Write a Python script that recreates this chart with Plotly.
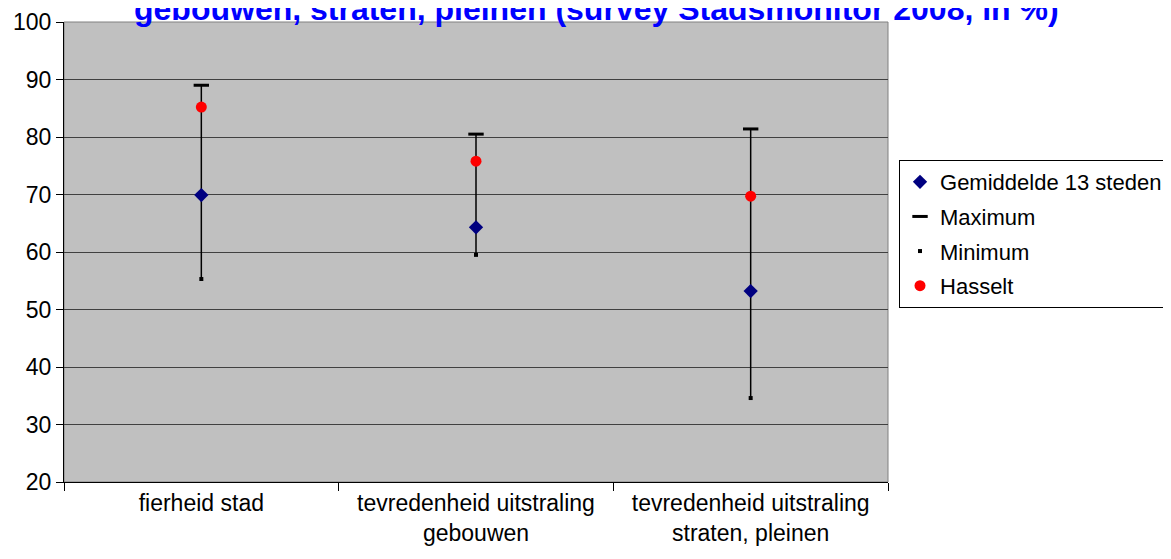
import plotly.graph_objects as go

# ─── Data ────────────────────────────────────────────────────────────────────
categories = [
    "fierheid stad",
    "tevredenheid uitstraling<br>gebouwen",
    "tevredenheid uitstraling<br>straten, pleinen",
]
gemiddelde = [69.9, 64.3, 53.2]
maximum = [89.0, 80.5, 81.4]
minimum = [55.3, 59.5, 34.6]
hasselt = [85.2, 75.8, 69.7]

TITLE = "gebouwen, straten, pleinen (survey Stadsmonitor 2008, in %)"

FONT = "Liberation Sans, Arial, sans-serif"

fig = go.Figure()

# high-low lines from max to min
hl_x, hl_y = [], []
for c, hi, lo in zip(categories, maximum, minimum):
    hl_x += [c, c, None]
    hl_y += [hi, lo, None]
fig.add_trace(go.Scatter(
    x=hl_x, y=hl_y, mode="lines",
    line=dict(color="black", width=1.5),
    showlegend=False, hoverinfo="skip",
))

fig.add_trace(go.Scatter(
    x=categories, y=gemiddelde, mode="markers", name="Gemiddelde 13 steden",
    legendgroup="g1",
    marker=dict(symbol="diamond", size=11, color="#000080"),
))
fig.add_trace(go.Scatter(
    x=categories, y=maximum, mode="markers", name="Maximum",
    legendgroup="g2",
    marker=dict(symbol="line-ew", size=11, color="black",
                line=dict(color="black", width=3)),
))
fig.add_trace(go.Scatter(
    x=categories, y=minimum, mode="markers", name="Minimum",
    legendgroup="g3",
    marker=dict(symbol="square", size=4, color="black"),
))
fig.add_trace(go.Scatter(
    x=categories, y=hasselt, mode="markers", name="Hasselt",
    legendgroup="g4",
    marker=dict(symbol="circle", size=11, color="#FF0000"),
))

# grey frame at top / right of plot area
fig.add_shape(type="rect", xref="paper", yref="paper", x0=0, x1=1, y0=0, y1=1,
              line=dict(color="#808080", width=1), layer="below")

fig.add_annotation(
    text=f"<b>{TITLE}</b>", xref="paper", yref="paper",
    x=0.646, y=0.985, xanchor="center", yanchor="bottom", showarrow=False,
    font=dict(size=32, color="#0000FF", family=FONT),
)

# the page body adds an 8px offset, so margins are shifted by -8px
fig.update_layout(
    width=1171, height=559,
    paper_bgcolor="white", plot_bgcolor="#C0C0C0",
    margin=dict(l=56, r=291, t=14, b=85),
    font=dict(family=FONT, size=23, color="black"),
    legend=dict(
        xref="container", yref="container",
        x=0.7609, y=0.728, xanchor="left", yanchor="top",
        bgcolor="white", bordercolor="black", borderwidth=1,
        font=dict(size=22), itemwidth=30, tracegroupgap=3,
    ),
    xaxis=dict(
        type="category", tickson="boundaries", ticks="outside", ticklen=8,
        tickcolor="black", showline=True, linecolor="black", linewidth=1,
        showgrid=False, range=[-0.5, 2.5], automargin=False,
    ),
    yaxis=dict(
        range=[20, 100], dtick=10, ticks="outside", ticklen=7,
        tickcolor="black", showline=True, linecolor="black", linewidth=1,
        showgrid=True, gridcolor="#404040", gridwidth=1, zeroline=False,
        automargin=False,
    ),
)

fig.write_html("out.html")
